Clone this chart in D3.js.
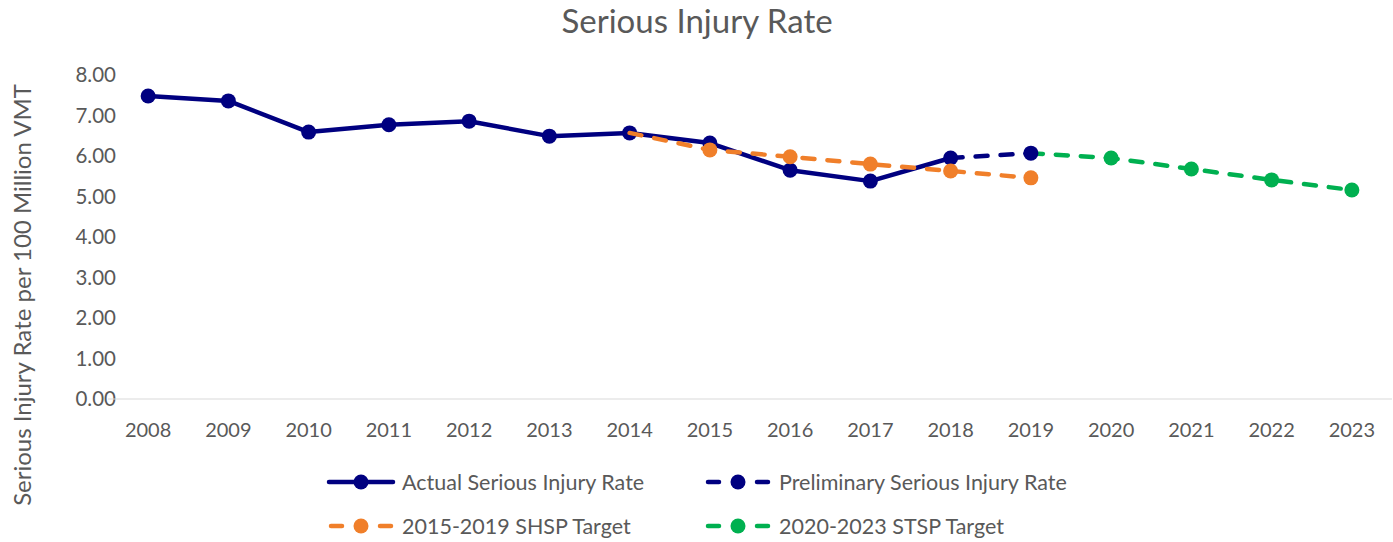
<!DOCTYPE html>
<html>
<head>
<meta charset="utf-8">
<script src="https://cdn.jsdelivr.net/npm/d3@7"></script>
<style>
  body { margin: 0; background: #fff; }
  text { font-family: Lato, "Open Sans", sans-serif; fill: #595959; }
</style>
</head>
<body>
<script>
// chart data
var years = ["2008","2009","2010","2011","2012","2013","2014","2015","2016","2017","2018","2019","2020","2021","2022","2023"];
var actualYears = ["2008","2009","2010","2011","2012","2013","2014","2015","2016","2017","2018"];
var actualRate = [7.48, 7.36, 6.59, 6.77, 6.86, 6.49, 6.57, 6.32, 5.65, 5.38, 5.95];
var prelimYears = ["2018","2019"];
var prelimRate = [5.95, 6.07];
var shspYears = ["2014","2015","2016","2017","2018","2019"];
var shspRate = [6.57, 6.15, 5.98, 5.80, 5.63, 5.46];
var stspYears = ["2019","2020","2021","2022","2023"];
var stspRate = [6.07, 5.95, 5.68, 5.41, 5.16];
var yTicks = [0,1,2,3,4,5,6,7,8];

var width = 1393, height = 542;
var margin = {top: 75, right: 1, bottom: 143, left: 108};

var svg = d3.select("body").append("svg")
    .attr("width", width)
    .attr("height", height);

var x = d3.scaleBand()
    .domain(years)
    .range([margin.left, width - margin.right]);

var y = d3.scaleLinear()
    .domain([0, 8])
    .range([height - margin.bottom, margin.top]);

// title
svg.append("text")
    .attr("x", 697)
    .attr("y", 33)
    .attr("text-anchor", "middle")
    .style("font-size", "33px")
    .text("Serious Injury Rate");

// y axis labels
svg.selectAll(".ytick")
    .data(yTicks)
    .enter()
    .append("text")
    .attr("class", "ytick")
    .attr("x", 116)
    .attr("y", function(d) { return y(d); })
    .attr("dy", "0.35em")
    .attr("text-anchor", "end")
    .style("font-size", "20.5px")
    .text(function(d) { return d.toFixed(2); });

// x axis line
svg.append("line")
    .attr("x1", margin.left)
    .attr("x2", width - margin.right)
    .attr("y1", y(0))
    .attr("y2", y(0))
    .style("stroke", "#d9d9d9")
    .style("stroke-width", 1);

// x labels
svg.selectAll(".xtick")
    .data(years)
    .enter()
    .append("text")
    .attr("class", "xtick")
    .attr("x", function(d) { return x(d) + x.bandwidth() / 2; })
    .attr("y", 437)
    .attr("text-anchor", "middle")
    .style("font-size", "20px")
    .text(function(d) { return d; });

// y axis title
svg.append("text")
    .attr("transform", "translate(31," + 295 + ") rotate(-90)")
    .attr("text-anchor", "middle")
    .style("font-size", "24px")
    .text("Serious Injury Rate per 100 Million VMT");

var line = d3.line()
    .x(function(d) { return x(d[0]) + x.bandwidth() / 2; })
    .y(function(d) { return y(d[1]); });

function drawSeries(yrs, vals, color, dashed, skipFirst) {
  var pts = d3.zip(yrs, vals);
  svg.append("path")
      .datum(pts)
      .attr("d", line)
      .style("fill", "none")
      .style("stroke", color)
      .style("stroke-width", 4.5)
      .style("stroke-linecap", "round")
      .style("stroke-linejoin", "round")
      .style("stroke-dasharray", dashed ? "12,13" : null);
  svg.selectAll(null)
      .data(skipFirst ? pts.slice(1) : pts)
      .enter()
      .append("circle")
      .attr("cx", function(d) { return x(d[0]) + x.bandwidth() / 2; })
      .attr("cy", function(d) { return y(d[1]); })
      .attr("r", 7.5)
      .style("fill", color);
}

var navy = "#000080", orange = "#f07f2a", green = "#00b050";

drawSeries(stspYears, stspRate, green, true, true);
drawSeries(actualYears, actualRate, navy, false, false);
drawSeries(prelimYears, prelimRate, navy, true, true);
drawSeries(shspYears, shspRate, orange, true, true);

// legend
var legend = [
  {name: "Actual Serious Injury Rate", color: navy, dashed: false, x: 328, y: 482},
  {name: "Preliminary Serious Injury Rate", color: navy, dashed: true, x: 705, y: 482},
  {name: "2015-2019 SHSP Target", color: orange, dashed: true, x: 328, y: 526},
  {name: "2020-2023 STSP Target", color: green, dashed: true, x: 705, y: 526}
];

legend.forEach(function(l) {
  var g = svg.append("g").attr("transform", "translate(" + l.x + "," + l.y + ")");
  if (l.dashed) {
    g.append("line").attr("x1", 3).attr("x2", 14).attr("y1", 0).attr("y2", 0)
      .style("stroke", l.color).style("stroke-width", 4.5).style("stroke-linecap", "round");
    g.append("line").attr("x1", 52).attr("x2", 63).attr("y1", 0).attr("y2", 0)
      .style("stroke", l.color).style("stroke-width", 4.5).style("stroke-linecap", "round");
  } else {
    g.append("line").attr("x1", 1).attr("x2", 65).attr("y1", 0).attr("y2", 0)
      .style("stroke", l.color).style("stroke-width", 4.5).style("stroke-linecap", "round");
  }
  g.append("circle").attr("cx", 33).attr("cy", 0).attr("r", 7.5).style("fill", l.color);
  g.append("text")
      .attr("x", 74)
      .attr("y", 0)
      .attr("dy", "0.35em")
      .style("font-size", "21.5px")
      .text(l.name);
});
</script>
</body>
</html>
